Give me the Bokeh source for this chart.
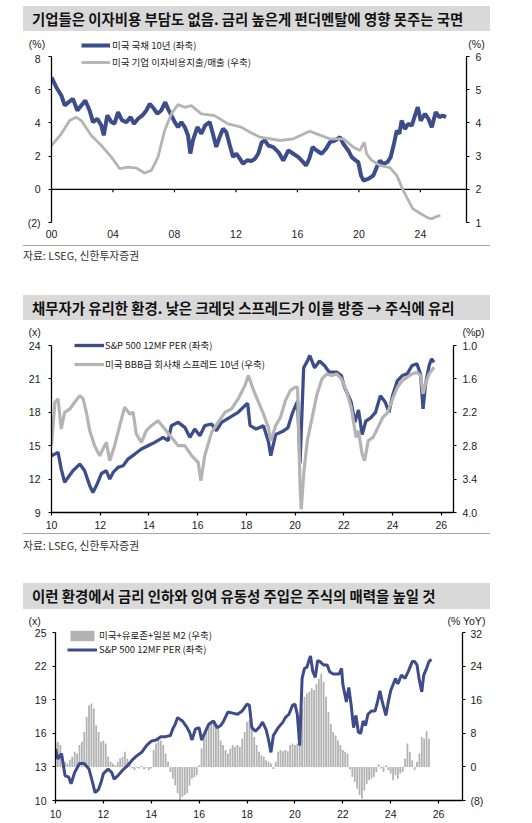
from bokeh.plotting import figure
from bokeh.models import Range1d, LinearAxis, FixedTicker, Legend, LegendItem, Label, Span, Div
from bokeh.layouts import column
from bokeh.embed import file_html
from bokeh.resources import INLINE

BLUE = "#3d4c8a"
GRAY = "#b4b4b4"
BAR_GRAY = "#b3b3b3"
NUM_FONT = "Liberation Sans"
KR_FONT = "Noto Sans CJK KR"
TXT = "#1a1a1a"
W = 516

# ---------------- texts ----------------
TITLE1 = "기업들은 이자비용 부담도 없음. 금리 높은게 펀더멘탈에 영향 못주는 국면"
TITLE2 = "채무자가 유리한 환경. 낮은 크레딧 스프레드가 이를 방증 → 주식에 유리"
TITLE3 = "이런 환경에서 금리 인하와 잉여 유동성 주입은 주식의 매력을 높일 것"
SOURCE = "자료: LSEG, 신한투자증권"

# ---------------- panel 1 data ----------------
p1_x_ticks = [2000, 2004, 2008, 2012, 2016, 2020, 2024]
p1_x_labels = ["00", "04", "08", "12", "16", "20", "24"]
p1_left_ticks = [-2, 0, 2, 4, 6, 8]
p1_left_labels = ["(2)", "0", "2", "4", "6", "8"]
p1_right_ticks = [1, 2, 3, 4, 5, 6]
p1_right_labels = ["1", "2", "3", "4", "5", "6"]
p1_units = ["(%)", "(%)"]
p1_series = ["미국 국채 10년 (좌축)", "미국 기업 이자비용지출/매출 (우축)"]

ust_10y = [
    (2000.0, 6.75), (2000.31, 6.15), (2000.64, 5.65), (2000.86, 5.05), (2001.12, 5.25), (2001.4, 5.45),
    (2001.68, 4.75), (2001.94, 5.05), (2002.2, 5.35), (2002.48, 4.75), (2002.7, 4.05), (2002.98, 4.25),
    (2003.24, 3.85), (2003.4, 3.25), (2003.63, 4.45), (2003.9, 4.05), (2004.1, 3.95), (2004.33, 4.65),
    (2004.59, 4.15), (2004.87, 4.05), (2005.15, 4.35), (2005.37, 3.95), (2005.63, 4.25), (2005.91, 4.45),
    (2006.17, 4.75), (2006.39, 5.15), (2006.67, 4.85), (2006.88, 4.55), (2007.14, 4.75), (2007.4, 5.25),
    (2007.58, 4.85), (2007.8, 4.45), (2008.02, 4.05), (2008.23, 3.75), (2008.45, 4.05), (2008.67, 3.75),
    (2008.88, 3.25), (2009.03, 2.15), (2009.2, 2.95), (2009.49, 3.75), (2009.75, 3.35), (2010.0, 3.85),
    (2010.29, 4.05), (2010.5, 3.35), (2010.72, 2.55), (2010.94, 3.15), (2011.16, 3.65), (2011.37, 3.45),
    (2011.6, 2.65), (2011.81, 1.95), (2012.03, 2.15), (2012.25, 1.85), (2012.46, 1.55), (2012.74, 1.75),
    (2013.0, 1.7), (2013.24, 1.84), (2013.45, 2.14), (2013.68, 2.84), (2013.89, 2.94), (2014.1, 2.64),
    (2014.43, 2.54), (2014.76, 2.24), (2015.08, 1.73), (2015.41, 2.34), (2015.73, 2.14), (2016.06, 1.94),
    (2016.38, 1.63), (2016.56, 1.43), (2016.77, 1.84), (2016.99, 2.54), (2017.25, 2.34), (2017.58, 2.14),
    (2017.86, 2.44), (2018.12, 2.84), (2018.45, 2.94), (2018.77, 3.14), (2018.99, 2.74), (2019.31, 2.34),
    (2019.53, 1.94), (2019.81, 1.73), (2019.96, 1.63), (2020.14, 0.83), (2020.29, 0.53), (2020.61, 0.63),
    (2020.94, 0.83), (2021.16, 1.33), (2021.37, 1.73), (2021.59, 1.53), (2021.85, 1.63), (2022.07, 1.94),
    (2022.28, 2.74), (2022.46, 3.54), (2022.63, 3.34), (2022.78, 4.14), (2023.0, 3.64), (2023.21, 3.94),
    (2023.44, 3.84), (2023.65, 4.45), (2023.83, 4.95), (2024.02, 4.14), (2024.3, 4.55), (2024.52, 4.25),
    (2024.74, 3.74), (2025.0, 4.65), (2025.23, 4.35), (2025.45, 4.45), (2025.67, 4.35),
]
interest_to_sales = [
    (2000.0, 3.32), (2000.64, 3.67), (2001.18, 4.07), (2001.6, 4.17), (2001.94, 4.07), (2002.59, 3.62),
    (2003.24, 3.32), (2003.9, 2.97), (2004.44, 2.62), (2004.98, 2.67), (2005.52, 2.64), (2006.06, 2.49),
    (2006.5, 2.57), (2006.93, 2.97), (2007.36, 3.77), (2007.8, 4.27), (2008.23, 4.55), (2008.67, 4.47),
    (2009.1, 4.52), (2009.75, 4.27), (2010.61, 4.22), (2011.48, 3.97), (2012.35, 3.87), (2012.92, 3.72),
    (2013.57, 3.57), (2014.87, 3.47), (2015.73, 3.52), (2016.8, 3.75), (2017.25, 3.67), (2018.12, 3.52),
    (2018.99, 3.52), (2019.64, 3.27), (2020.07, 3.17), (2020.35, 3.42), (2020.5, 3.07), (2020.83, 2.87),
    (2021.37, 2.72), (2022.02, 2.65), (2022.46, 2.42), (2022.89, 1.96), (2023.5, 1.42), (2024.0, 1.27),
    (2024.5, 1.14), (2024.75, 1.11), (2025.0, 1.17), (2025.3, 1.22),
]

# ---------------- panel 2 data ----------------
p2_x_ticks = [2010, 2012, 2014, 2016, 2018, 2020, 2022, 2024, 2026]
p2_x_labels = ["10", "12", "14", "16", "18", "20", "22", "24", "26"]
p2_left_ticks = [9, 12, 15, 18, 21, 24]
p2_left_labels = ["9", "12", "15", "18", "21", "24"]
p2_right_ticks = [1.0, 1.6, 2.2, 2.8, 3.4, 4.0]
p2_right_labels = ["1.0", "1.6", "2.2", "2.8", "3.4", "4.0"]
p2_units = ["(x)", "(%p)"]
p2_series = ["S&P 500 12MF PER (좌축)", "미국 BBB급 회사채 스프레드 10년 (우축)"]

per_weekly = [
    (2010.0, 14.1), (2010.27, 14.4), (2010.4, 12.9), (2010.54, 11.7), (2010.68, 12.15), (2010.88, 12.75),
    (2011.16, 13.35), (2011.36, 12.75), (2011.57, 11.4), (2011.7, 10.8), (2011.84, 11.4), (2012.05, 12.5),
    (2012.25, 12.75), (2012.39, 12.0), (2012.53, 12.6), (2012.73, 13.05), (2012.94, 13.2), (2013.14, 13.8),
    (2013.42, 14.25), (2013.69, 14.7), (2013.96, 15.0), (2014.24, 15.3), (2014.58, 15.75), (2014.79, 15.45),
    (2014.92, 16.8), (2015.2, 17.1), (2015.47, 16.65), (2015.68, 15.75), (2015.88, 16.5), (2016.09, 15.9),
    (2016.29, 16.8), (2016.57, 16.95), (2016.77, 16.35), (2016.98, 17.1), (2017.32, 17.55), (2017.66, 18.0),
    (2017.94, 18.6), (2018.05, 18.8), (2018.15, 16.8), (2018.4, 16.5), (2018.7, 16.8), (2018.9, 15.4),
    (2019.0, 14.1), (2019.2, 16.0), (2019.5, 16.3), (2019.7, 16.6), (2019.9, 18.0), (2020.1, 19.0),
    (2020.2, 13.4), (2020.35, 22.0), (2020.5, 22.6), (2020.6, 23.1), (2020.8, 22.0), (2021.0, 22.6),
    (2021.2, 22.2), (2021.4, 21.6), (2021.7, 21.6), (2021.9, 21.3), (2022.0, 20.4), (2022.3, 18.9),
    (2022.45, 17.1), (2022.6, 18.2), (2022.75, 16.0), (2022.9, 17.2), (2023.1, 17.5), (2023.3, 18.0),
    (2023.5, 19.5), (2023.7, 18.9), (2023.85, 18.0), (2024.0, 19.5), (2024.2, 20.85), (2024.4, 21.3),
    (2024.6, 21.45), (2024.8, 22.2), (2025.0, 22.35), (2025.15, 21.4), (2025.25, 18.3), (2025.35, 20.5),
    (2025.5, 22.2), (2025.6, 22.8), (2025.7, 22.5),
]
bbb_spread = [
    (2010.0, 2.8), (2010.14, 2.02), (2010.27, 1.96), (2010.4, 2.5), (2010.54, 2.2), (2010.75, 2.14),
    (2010.95, 2.02), (2011.16, 1.9), (2011.3, 1.96), (2011.43, 2.2), (2011.57, 2.53), (2011.77, 2.8),
    (2011.98, 2.98), (2012.11, 2.86), (2012.25, 2.74), (2012.39, 3.07), (2012.59, 2.8), (2012.8, 2.44),
    (2013.0, 2.11), (2013.21, 2.23), (2013.35, 2.2), (2013.48, 2.59), (2013.69, 2.74), (2013.89, 2.53),
    (2014.1, 2.44), (2014.37, 2.35), (2014.65, 2.5), (2014.92, 2.65), (2015.2, 2.8), (2015.47, 2.8),
    (2015.75, 2.98), (2016.02, 3.1), (2016.13, 3.43), (2016.29, 2.98), (2016.57, 2.56), (2016.84, 2.38),
    (2017.12, 2.2), (2017.39, 2.14), (2017.66, 1.96), (2017.94, 1.72), (2018.08, 1.54), (2018.3, 1.81),
    (2018.5, 2.02), (2018.7, 2.23), (2018.9, 2.47), (2019.0, 2.71), (2019.2, 2.44), (2019.4, 2.29),
    (2019.6, 1.99), (2019.8, 1.81), (2020.0, 1.75), (2020.1, 1.75), (2020.2, 3.49), (2020.25, 3.94),
    (2020.35, 3.31), (2020.5, 2.71), (2020.7, 2.29), (2020.9, 1.87), (2021.1, 1.6), (2021.3, 1.51),
    (2021.5, 1.54), (2021.7, 1.51), (2021.9, 1.6), (2022.1, 1.81), (2022.3, 2.11), (2022.5, 2.65),
    (2022.6, 2.53), (2022.75, 2.95), (2022.85, 3.07), (2023.0, 2.71), (2023.2, 2.65), (2023.4, 2.47),
    (2023.6, 2.29), (2023.8, 2.2), (2024.0, 1.96), (2024.2, 1.75), (2024.4, 1.63), (2024.6, 1.57),
    (2024.8, 1.51), (2025.0, 1.48), (2025.15, 1.54), (2025.25, 1.87), (2025.35, 1.69), (2025.5, 1.51),
    (2025.7, 1.39),
]

# ---------------- panel 3 data ----------------
p3_x_ticks = [2010, 2012, 2014, 2016, 2018, 2020, 2022, 2024, 2026]
p3_x_labels = ["10", "12", "14", "16", "18", "20", "22", "24", "26"]
p3_left_ticks = [10, 13, 16, 19, 22, 25]
p3_left_labels = ["10", "13", "16", "19", "22", "25"]
p3_right_ticks = [-8, 0, 8, 16, 24, 32]
p3_right_labels = ["(8)", "0", "8", "16", "24", "32"]
p3_units = ["(x)", "(% YoY)"]
p3_series = ["미국+유로존+일본 M2 (우축)", "S&P 500 12MF PER (좌축)"]

per_monthly = [
    (2010.0, 14.6), (2010.1, 13.7), (2010.25, 14.2), (2010.4, 12.2), (2010.55, 12.1), (2010.65, 11.5),
    (2010.8, 12.5), (2011.0, 13.3), (2011.2, 13.3), (2011.4, 12.8), (2011.55, 11.6), (2011.65, 10.7),
    (2011.8, 11.0), (2011.9, 11.6), (2012.0, 12.4), (2012.2, 12.8), (2012.35, 12.5), (2012.45, 11.9),
    (2012.6, 12.2), (2012.8, 12.7), (2013.0, 13.1), (2013.2, 13.6), (2013.4, 14.0), (2013.6, 14.3),
    (2013.8, 14.9), (2014.0, 15.3), (2014.2, 15.4), (2014.4, 15.7), (2014.6, 15.7), (2014.8, 15.8),
    (2014.9, 16.4), (2015.0, 16.8), (2015.1, 17.4), (2015.3, 17.1), (2015.5, 16.5), (2015.6, 16.1),
    (2015.7, 15.4), (2015.85, 16.4), (2016.0, 16.5), (2016.1, 15.4), (2016.25, 16.1), (2016.4, 16.8),
    (2016.6, 17.1), (2016.75, 16.5), (2016.9, 16.7), (2017.0, 17.0), (2017.2, 17.9), (2017.4, 17.8),
    (2017.6, 17.7), (2017.8, 18.0), (2018.0, 18.6), (2018.1, 18.5), (2018.2, 16.5), (2018.35, 16.2),
    (2018.5, 16.5), (2018.65, 17.0), (2018.8, 16.3), (2018.9, 15.4), (2019.0, 14.3), (2019.1, 15.8),
    (2019.3, 16.5), (2019.5, 17.0), (2019.6, 17.4), (2019.75, 17.7), (2019.9, 18.5), (2020.0, 18.6),
    (2020.1, 17.7), (2020.2, 14.9), (2020.3, 20.9), (2020.4, 21.8), (2020.5, 21.9), (2020.6, 22.6),
    (2020.65, 22.9), (2020.75, 21.5), (2020.85, 21.0), (2020.95, 22.5), (2021.05, 22.4), (2021.2, 22.1),
    (2021.35, 22.1), (2021.45, 21.5), (2021.6, 21.3), (2021.75, 21.3), (2021.85, 21.3), (2021.95, 21.8),
    (2022.0, 20.4), (2022.15, 18.8), (2022.25, 20.1), (2022.35, 18.5), (2022.45, 16.5), (2022.55, 17.6),
    (2022.65, 16.1), (2022.75, 16.0), (2022.85, 17.1), (2022.95, 16.7), (2023.05, 17.7), (2023.2, 18.0),
    (2023.35, 18.0), (2023.45, 18.8), (2023.55, 19.8), (2023.65, 18.8), (2023.8, 17.6), (2023.9, 18.8),
    (2024.0, 19.8), (2024.2, 20.9), (2024.3, 20.4), (2024.45, 21.2), (2024.6, 20.9), (2024.75, 21.6),
    (2024.9, 22.4), (2025.0, 22.4), (2025.1, 22.1), (2025.2, 20.7), (2025.3, 19.7), (2025.38, 21.2),
    (2025.5, 21.8), (2025.6, 22.4), (2025.7, 22.6),
]
# M2 YoY (%), one reading per 0.1 year from 2010.0
m2_start_year = 2010.0
m2_yoy = [
    5.6, 6.0, 5.2, 2.4, 1.2, 0.8, 1.6, 2.4, 3.6, 3.2,
    5.2, 6.0, 8.3, 11.9, 14.7, 15.1, 13.9, 9.9, 8.3, 6.0,
    6.3, 5.6, 2.4, 1.2, 0.8, 0.4, 1.2, 2.0, 2.4, 3.6,
    2.0, 0.8, -0.4, -0.8, -0.2, -0.4, 0.2, -0.6, -0.2, -0.8,
    -0.4, 4.0, 5.6, 6.7, 6.3, 5.2, 3.2, 1.2, -1.2, -2.8,
    -4.4, -6.3, -7.9, -7.1, -6.7, -6.3, -4.4, -2.8, -2.4, -2.0,
    0.4, 4.4, 7.1, 8.3, 9.5, 10.3, 10.7, 9.9, 9.1, 6.3,
    5.2, 4.0, 3.2, 4.4, 5.2, 4.8, 5.2, 4.8, 6.7, 8.3,
    10.7, 11.1, 9.1, 7.1, 5.2, 3.6, 2.8, 2.4, 1.6, 1.2,
    0.8, -0.5, 1.2, 3.6, 4.0, 3.7, 4.0, 3.7, 5.2, 5.6,
    5.2, 5.6, 6.7, 13.9, 16.7, 17.5, 17.9, 18.7, 18.3, 19.8,
    21.0, 22.2, 20.2, 16.7, 13.1, 10.3, 8.3, 7.5, 6.3, 5.2,
    4.0, 3.6, 3.2, -0.6, -2.4, -3.6, -5.2, -6.7, -7.5, -5.6,
    -4.0, -3.2, -2.8, -2.4, -1.2, 0.6, -0.4, -1.2, 0.4, -0.8,
    -1.6, -3.2, -2.0, -2.8, -1.6, -1.2, 2.0, 5.6, 3.6, 1.6,
    -0.8, 1.2, 3.2, 7.1, 6.7, 8.5, 6.7,
]


def xs(pairs):
    return [a for a, b in pairs]


def ys(pairs):
    return [b for a, b in pairs]


def extend(lo, hi, span_px, extra_px):
    # value reached extra_px beyond `hi` on a scale where lo..hi covers span_px
    return hi + (hi - lo) * extra_px / span_px


def style_axis(ax, ticks, labels, tick_out=3, standoff=6, bounded=True):
    ax.ticker = FixedTicker(ticks=ticks)
    ax.major_label_overrides = dict(zip(ticks, labels))
    if bounded:
        ax.bounds = (min(ticks), max(ticks))
    ax.axis_line_color = "black"
    ax.axis_line_width = 1.3
    ax.major_tick_line_color = "black"
    ax.major_tick_line_width = 1.2
    ax.major_tick_in = 0
    ax.major_tick_out = tick_out
    ax.minor_tick_line_color = None
    ax.major_label_standoff = standoff
    ax.major_label_text_font = NUM_FONT
    ax.major_label_text_font_size = "10.5px"
    ax.major_label_text_color = TXT


def base_fig(height, xr, yr, rr, mbl, mbr, mbb):
    p = figure(width=W, height=height, x_range=Range1d(*xr), y_range=Range1d(*yr),
               output_backend="svg", toolbar_location=None, frame_align=False,
               min_border_left=mbl, min_border_right=mbr, min_border_top=0,
               min_border_bottom=mbb, outline_line_color=None,
               background_fill_color="white", border_fill_color="white")
    p.xgrid.visible = False
    p.ygrid.visible = False
    p.extra_y_ranges = {"r": Range1d(*rr)}
    return p


def header_fig(height):
    p = figure(width=W, height=height, x_range=Range1d(0, W), y_range=Range1d(0, height),
               output_backend="svg", toolbar_location=None, min_border=0, frame_align=False,
               x_axis_location=None, y_axis_location=None, outline_line_color=None,
               background_fill_color="white", border_fill_color="white")
    p.xgrid.visible = False
    p.ygrid.visible = False
    return p


def unit_label(p, text, x, y):
    p.add_layout(Label(x=x, y=y, x_units="screen", y_units="screen", text=text,
                       text_font=NUM_FONT, text_font_size="10.5px", text_color=TXT,
                       text_align="center", text_baseline="middle"))


def make_legend(items, vx, vy, gw, gh, sp, standoff):
    return Legend(items=items, location=(vx, vy), orientation="vertical",
                  background_fill_alpha=0, border_line_color=None, padding=0, margin=0,
                  spacing=sp, glyph_width=gw, glyph_height=gh, label_height=gh,
                  label_standoff=standoff, label_text_font=KR_FONT,
                  label_text_font_size="9.5px", label_text_color=TXT)


def title_div(text, h, pad_top):
    html = ('<div style="padding-top:%dpx;"><div style="margin-left:23px;width:467px;height:%dpx;'
            'background:#d9d9d9;box-sizing:border-box;padding-left:9px;line-height:%dpx;'
            "white-space:nowrap;font-family:'Noto Sans CJK KR';font-weight:bold;font-size:14.4px;"
            'color:#111;">%s</div></div>' % (pad_top, h - pad_top, h - pad_top, text))
    return Div(text=html, width=W, height=h, margin=0)


def source_div(h, line_top, text_gap, text):
    html = ('<div style="padding-top:%dpx;"><div style="margin-left:23px;width:467px;height:0;'
            'border-top:1.5px solid #a6a6a6;"></div>'
            '<div style="margin-left:23px;padding-top:%dpx;line-height:14px;'
            "font-family:'Noto Sans CJK KR';font-size:10.8px;color:#333;\">%s</div></div>"
            % (line_top, text_gap, text))
    return Div(text=html, width=W, height=h, margin=0)


# ================= panel 1 =================
# header strip (units + first legend entry), page y 31..52
h1 = header_fig(21)
proxy1 = h1.line(x=[float("nan")], y=[float("nan")], line_color=BLUE, line_width=4)
h1.add_layout(make_legend([LegendItem(label=p1_series[0], renderers=[proxy1])], 81, 0, 29, 14, 2, 2))
unit_label(h1, p1_units[0], 36.5, 8.6)
unit_label(h1, p1_units[1], 476, 8.6)

# main plot: frame y 52..222, value 8 at y=56
p1_span = 222 - 56
p1 = base_fig(188, (2000, 2027),
              (min(p1_left_ticks), extend(min(p1_left_ticks), max(p1_left_ticks), p1_span, 4)),
              (min(p1_right_ticks), extend(min(p1_right_ticks), max(p1_right_ticks), p1_span, 4)),
              51, W - 466, 18)
style_axis(p1.yaxis[0], p1_left_ticks, p1_left_labels, tick_out=3, standoff=8)
style_axis(p1.xaxis[0], p1_x_ticks, p1_x_labels, tick_out=0, standoff=7, bounded=False)
p1.xaxis[0].axis_line_color = None
p1.xaxis[0].major_tick_line_color = None
r1 = LinearAxis(y_range_name="r")
style_axis(r1, p1_right_ticks, p1_right_labels, tick_out=3, standoff=6)
p1.add_layout(r1, "right")
p1.add_layout(Span(location=0, dimension="width", line_color="black", line_width=1.3, level="underlay"))
p1.segment(x0=p1_x_ticks, y0=[0] * len(p1_x_ticks), x1=p1_x_ticks, y1=[-0.18] * len(p1_x_ticks),
           line_color="black", line_width=1.2)
l1a = p1.line(xs(ust_10y), ys(ust_10y), line_color=BLUE, line_width=4)
l1b = p1.line(xs(interest_to_sales), ys(interest_to_sales), line_color=GRAY, line_width=2.8,
              y_range_name="r")
p1.add_layout(make_legend([LegendItem(label=p1_series[1], renderers=[l1b])], 30, 153, 29, 14, 2, 2))

# ================= panel 2 =================
h2 = header_fig(18)
unit_label(h2, p2_units[0], 34, 6.6)
unit_label(h2, p2_units[1], 473, 6.6)

p2_span = 512 - 345
p2 = base_fig(194, (2010, 2026.5),
              (9, extend(9, 24, p2_span, 7)),
              (4.0, extend(4.0, 1.0, p2_span, 7)),
              51, W - 453, 20)
style_axis(p2.yaxis[0], p2_left_ticks, p2_left_labels, tick_out=3, standoff=8)
style_axis(p2.xaxis[0], p2_x_ticks, p2_x_labels, tick_out=3, standoff=5, bounded=False)
r2 = LinearAxis(y_range_name="r")
style_axis(r2, p2_right_ticks, p2_right_labels, tick_out=3, standoff=6)
p2.add_layout(r2, "right")
l2a = p2.line(xs(per_weekly), ys(per_weekly), line_color=BLUE, line_width=3.3)
l2b = p2.line(xs(bbb_spread), ys(bbb_spread), line_color=GRAY, line_width=3.2, y_range_name="r")
p2.add_layout(make_legend([LegendItem(label=p2_series[0], renderers=[l2a]),
                           LegendItem(label=p2_series[1], renderers=[l2b])],
                          23, 141, 30, 14, 5, 1))

# ================= panel 3 =================
h3 = header_fig(18)
unit_label(h3, p3_units[0], 34, 6.3)
unit_label(h3, p3_units[1], 466, 6.3)

p3_span = 800 - 632
p3 = base_fig(193, (2010, 2027),
              (10, extend(10, 25, p3_span, 5)),
              (-8, extend(-8, 32, p3_span, 5)),
              55, W - 462, 20)
style_axis(p3.yaxis[0], p3_left_ticks, p3_left_labels, tick_out=3, standoff=6)
style_axis(p3.xaxis[0], p3_x_ticks, p3_x_labels, tick_out=3, standoff=6, bounded=False)
r3 = LinearAxis(y_range_name="r")
style_axis(r3, p3_right_ticks, p3_right_labels, tick_out=3, standoff=5)
p3.add_layout(r3, "right")
m2_year = [round(m2_start_year + 0.1 * i, 2) for i in range(len(m2_yoy))]
b3 = p3.vbar(x=m2_year, top=m2_yoy, bottom=0, width=0.075, fill_color=BAR_GRAY,
             line_color=None, y_range_name="r")
l3 = p3.line(xs(per_monthly), ys(per_monthly), line_color=BLUE, line_width=3)
p3.add_layout(make_legend([LegendItem(label=p3_series[0], renderers=[b3]),
                           LegendItem(label=p3_series[1], renderers=[l3])],
                          12, 144, 30, 13, 0, 2))

page = column(
    title_div(TITLE1, 31, 6), h1, p1, source_div(55, 5, 2, SOURCE),
    title_div(TITLE2, 25, 0), h2, p2, source_div(51, 1, 4, SOURCE),
    title_div(TITLE3, 26, 0), h3, p3, source_div(3, 1, 0, ""),
    spacing=0,
)

open("out.html", "w").write(file_html(page, INLINE))
